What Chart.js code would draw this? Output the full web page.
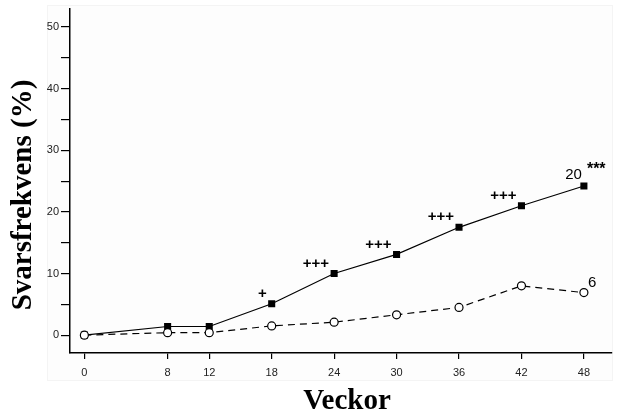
<!DOCTYPE html>
<html>
<head>
<meta charset="utf-8">
<script src="https://cdn.jsdelivr.net/npm/chart.js@4/dist/chart.umd.min.js"></script>
<style>
  html, body { margin: 0; padding: 0; background: #fff; }
  #wrap { width: 625px; height: 416px; }
</style>
</head>
<body>
<div id="wrap"><canvas id="responseChart"></canvas></div>
<script>
// weeks on the x axis
const weeks = [0, 8, 12, 18, 24, 30, 36, 42, 48];
// response rate (%), filled squares / solid line
const activeRate = [0, 1.4, 1.4, 5.1, 10.0, 13.1, 17.5, 21.0, 24.2];
// response rate (%), open circles / dashed line
const controlRate = [0, 0.4, 0.4, 1.5, 2.1, 3.3, 4.5, 8.0, 6.9];
// significance marks over the solid series
const sigMarks = ["", "", "", "+", "+++", "+++", "+++", "+++", ""];
const yTicks = [0, 5, 10, 15, 20, 25, 30, 35, 40, 45, 50];
const activeEndLabel = "20";
const activeEndSig = "***";
const controlEndLabel = "6";
const yTitle = "Svarsfrekvens (%)";
const xTitle = "Veckor";

const toPoints = vals => weeks.map((w, i) => ({ x: w, y: vals[i] }));

const frame = {
    id: "frame",
    beforeDraw(chart) {
        const ctx = chart.ctx;
        ctx.save();
        ctx.fillStyle = "#fdfdfd";
        ctx.fillRect(47, 5, 565, 375);
        ctx.strokeStyle = "#f4f4f4";
        ctx.lineWidth = 1;
        ctx.strokeRect(47.5, 5.5, 565, 375);
        ctx.restore();
    }
};

const annotations = {
    id: "annotations",
    afterDatasetsDraw(chart) {
        const ctx = chart.ctx;
        const active = chart.getDatasetMeta(1).data;
        const control = chart.getDatasetMeta(0).data;
        ctx.save();
        ctx.fillStyle = "#000";
        ctx.font = "bold 15px 'Liberation Sans', Arial, sans-serif";
        ctx.textAlign = "right";
        ctx.textBaseline = "middle";
        sigMarks.forEach((m, i) => {
            if (!m) return;
            const p = active[i];
            ctx.fillText(m, p.x - 5, p.y - 10);
        });

        const last = active[active.length - 1];
        ctx.font = "15px 'Liberation Sans', Arial, sans-serif";
        ctx.textBaseline = "alphabetic";
        ctx.textAlign = "right";
        ctx.fillText(activeEndLabel, last.x - 2, last.y - 7);
        ctx.textAlign = "left";
        ctx.font = "bold 16px 'Liberation Sans', Arial, sans-serif";
        ctx.fillText(activeEndSig, last.x + 3, last.y - 12);

        const lastC = control[control.length - 1];
        ctx.font = "15px 'Liberation Sans', Arial, sans-serif";
        ctx.fillText(controlEndLabel, lastC.x + 4, lastC.y - 6);

        // axis titles
        ctx.font = "bold 29px 'Liberation Serif', 'Times New Roman', serif";
        ctx.textAlign = "center";
        ctx.fillText(xTitle, 347, 409);
        ctx.translate(31, 195);
        ctx.rotate(-Math.PI / 2);
        ctx.fillText(yTitle, 0, 0);
        ctx.restore();
    }
};

new Chart(document.getElementById("responseChart"), {
    type: "line",
    data: {
        datasets: [{
            label: "control",
            data: toPoints(controlRate),
            order: 0,
            borderColor: "#000",
            borderWidth: 1.2,
            borderDash: [7, 5],
            pointStyle: "circle",
            pointRadius: 4,
            pointBorderWidth: 1.2,
            pointBackgroundColor: "#fff",
            pointBorderColor: "#000",
            tension: 0
        }, {
            label: "active",
            data: toPoints(activeRate),
            order: 1,
            borderColor: "#000",
            borderWidth: 1.2,
            pointStyle: "rect",
            pointRadius: 5,
            pointBorderWidth: 0,
            pointBackgroundColor: "#000",
            pointBorderColor: "#000",
            tension: 0
        }]
    },
    options: {
        responsive: true,
        maintainAspectRatio: false,
        animation: false,
        layout: { padding: { top: 5, right: 13, left: 0, bottom: 0 } },
        plugins: {
            legend: { display: false },
            tooltip: { enabled: false }
        },
        scales: {
            x: {
                type: "linear",
                min: -1.38,
                max: 50.7,
                afterBuildTicks: scale => { scale.ticks = weeks.map(v => ({ value: v })); },
                afterFit: scale => { scale.height = 63; },
                grid: { drawOnChartArea: false, drawTicks: true, tickLength: 6, color: "#000", lineWidth: 1.2 },
                border: { display: true, color: "#000", width: 1.5 },
                ticks: {
                    color: "#222",
                    padding: 7,
                    maxRotation: 0,
                    autoSkip: false,
                    font: { family: "'Liberation Sans', Arial, sans-serif", size: 11 }
                }
            },
            y: {
                type: "linear",
                min: -2.9,
                max: 53,
                afterBuildTicks: scale => { scale.ticks = yTicks.map(v => ({ value: v })); },
                afterFit: scale => { scale.width = 70; },
                grid: { drawOnChartArea: false, drawTicks: true, tickLength: 9, color: "#000", lineWidth: 1.2 },
                border: { display: true, color: "#000", width: 1.5 },
                ticks: {
                    color: "#222",
                    padding: 2,
                    autoSkip: false,
                    callback: v => (v % 10 === 0 ? v : ""),
                    font: { family: "'Liberation Sans', Arial, sans-serif", size: 11 }
                }
            }
        }
    },
    plugins: [frame, annotations]
});
</script>
</body>
</html>
